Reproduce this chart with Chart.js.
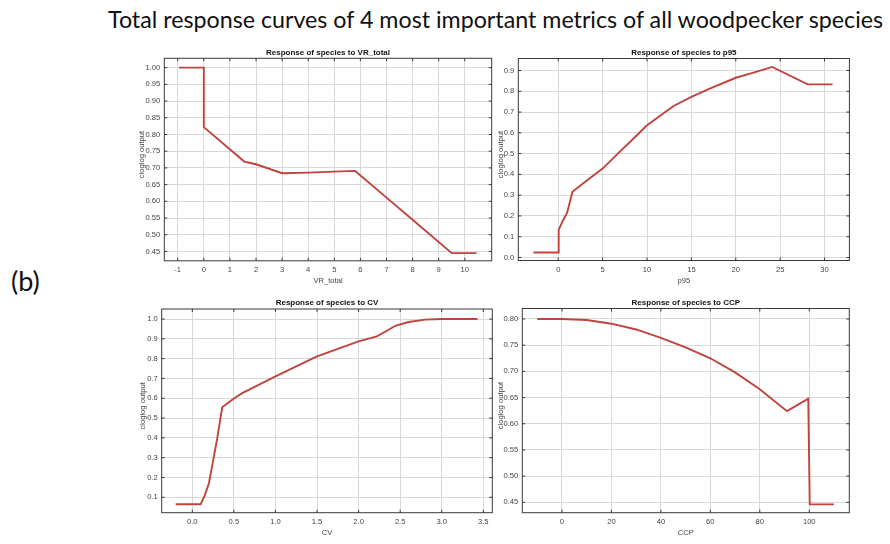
<!DOCTYPE html>
<html>
<head>
<meta charset="utf-8">
<script src="https://cdn.jsdelivr.net/npm/chart.js@4.4.1/dist/chart.umd.min.js"></script>
<style>
  html, body { margin: 0; padding: 0; background: #fff; }
  #page { position: relative; width: 890px; height: 544px; overflow: hidden; background: #fff; }
  #page canvas { position: absolute; left: 0; top: 0; pointer-events: none; }
  #mainTitle { position: absolute; left: 108px; top: 5px; white-space: nowrap; font-family: Lato, "Open Sans", sans-serif; color: #111; }
  #tag { position: absolute; left: 11px; top: 268px; line-height: 26px; font-family: Lato, "Open Sans", sans-serif; font-size: 27px; color: #111; }
</style>
</head>
<body>
<div id="page">
  <div id="mainTitle">Total response curves of 4 most important metrics of all woodpecker species</div>
  <div id="tag">(b)</div>
  <canvas id="cVR" width="890" height="544"></canvas>
  <canvas id="cP95" width="890" height="544"></canvas>
  <canvas id="cCV" width="890" height="544"></canvas>
  <canvas id="cCCP" width="890" height="544"></canvas>
</div>
<script>
// Response of species to VR_total
const vrX = [-0.95, 0, 0, 1.55, 2.0, 3.0, 4.0, 5.0, 5.8, 7.0, 8.0, 9.5, 10.45];
const vrY = [1.0, 1.0, 0.822, 0.719, 0.711, 0.684, 0.686, 0.689, 0.691, 0.611, 0.545, 0.445, 0.445];
const vrTicksX = [-1, 0, 1, 2, 3, 4, 5, 6, 7, 8, 9, 10];
const vrTicksY = [0.45, 0.50, 0.55, 0.60, 0.65, 0.70, 0.75, 0.80, 0.85, 0.90, 0.95, 1.00];

// Response of species to p95
const p95X = [-2.8, 0, 0.05, 0.5, 1.0, 1.6, 3, 5, 7, 8.4, 10, 13, 15, 17, 20, 22, 24.1, 28.1, 30.9];
const p95Y = [0.024, 0.024, 0.133, 0.176, 0.216, 0.316, 0.363, 0.428, 0.512, 0.569, 0.636, 0.729, 0.773, 0.812, 0.865, 0.890, 0.917, 0.833, 0.833];
const p95TicksX = [0, 5, 10, 15, 20, 25, 30];
const p95TicksY = [0.0, 0.1, 0.2, 0.3, 0.4, 0.5, 0.6, 0.7, 0.8, 0.9];

// Response of species to CV
const cvX = [-0.2, 0.1, 0.15, 0.2, 0.25, 0.3, 0.36, 0.5, 0.6, 1.0, 1.5, 2.0, 2.22, 2.45, 2.6, 2.8, 3.0, 3.43];
const cvY = [0.065, 0.065, 0.11, 0.171, 0.284, 0.398, 0.555, 0.599, 0.626, 0.71, 0.811, 0.887, 0.912, 0.967, 0.985, 0.997, 1.0, 1.0];
const cvTicksX = [0.0, 0.5, 1.0, 1.5, 2.0, 2.5, 3.0, 3.5];
const cvTicksY = [0.1, 0.2, 0.3, 0.4, 0.5, 0.6, 0.7, 0.8, 0.9, 1.0];

// Response of species to CCP
const ccpX = [-10, 0, 10, 20, 30, 40, 50, 60, 70, 80, 91, 99.6, 100.2, 110];
const ccpY = [0.800, 0.800, 0.798, 0.791, 0.780, 0.764, 0.746, 0.725, 0.698, 0.666, 0.624, 0.648, 0.446, 0.446];
const ccpTicksX = [0, 20, 40, 60, 80, 100];
const ccpTicksY = [0.45, 0.50, 0.55, 0.60, 0.65, 0.70, 0.75, 0.80];

const LINE_COLOR = '#c0443d';
const GRID_COLOR = '#d8d8d8';
const FRAME_COLOR = '#3a3a3a';
const TICK_COLOR = '#444';
const FONT = '"Liberation Sans", Arial, sans-serif';
const AXIS_FONT_SIZE = 7.6;

// fit the figure title to its line
(function () {
  const el = document.getElementById('mainTitle');
  const c = document.createElement('canvas').getContext('2d');
  c.font = '100px Lato';
  const w = c.measureText(el.textContent).width;
  el.style.fontSize = (100 * 777 / w).toFixed(2) + 'px';
})();

// frame, inward tick marks, panel heading and y-axis title
const framePlugin = {
  id: 'frame',
  afterDatasetsDraw(chart, args, opts) {
    const { ctx, chartArea: a, scales: { x, y } } = chart;
    ctx.save();
    ctx.strokeStyle = FRAME_COLOR;
    ctx.lineWidth = 1;
    ctx.beginPath();
    x.ticks.forEach(t => {
      const px = x.getPixelForValue(t.value);
      ctx.moveTo(px, a.bottom); ctx.lineTo(px, a.bottom - 3);
      ctx.moveTo(px, a.top); ctx.lineTo(px, a.top + 3);
    });
    y.ticks.forEach(t => {
      const py = y.getPixelForValue(t.value);
      ctx.moveTo(a.left, py); ctx.lineTo(a.left + 3, py);
      ctx.moveTo(a.right, py); ctx.lineTo(a.right - 3, py);
    });
    ctx.stroke();
    ctx.strokeRect(a.left, a.top, a.right - a.left, a.bottom - a.top);

    ctx.fillStyle = '#111';
    ctx.font = 'bold 8px ' + FONT;
    ctx.textAlign = 'center';
    ctx.textBaseline = 'middle';
    ctx.fillText(opts.text, (a.left + a.right) / 2, a.top - 6);

    ctx.fillStyle = TICK_COLOR;
    ctx.font = AXIS_FONT_SIZE + 'px ' + FONT;
    ctx.translate(a.left - opts.yTitleGap, (a.top + a.bottom) / 2 - 5);
    ctx.rotate(-Math.PI / 2);
    ctx.fillText('cloglog output', 0, 0);
    ctx.restore();
  }
};

function makePanel(id, p) {
  const xAxisH = 25;
  const ticksAt = vals => axis => { axis.ticks = vals.map(v => ({ value: v })); };
  const tickFont = { family: FONT, size: AXIS_FONT_SIZE };
  new Chart(document.getElementById(id), {
    type: 'line',
    data: {
      datasets: [{
        data: p.xs.map((v, i) => ({ x: v, y: p.ys[i] })),
        borderColor: LINE_COLOR,
        borderWidth: 1.9,
        pointRadius: 0,
        tension: 0,
        fill: false
      }]
    },
    options: {
      responsive: false,
      animation: false,
      events: [],
      layout: {
        padding: {
          left: p.area[0] - 30,
          top: p.area[1],
          right: 890 - p.area[2],
          bottom: 544 - p.area[3] - xAxisH
        }
      },
      plugins: {
        legend: { display: false },
        tooltip: { enabled: false },
        frame: { text: p.title, yTitleGap: p.yTitleGap }
      },
      scales: {
        x: {
          type: 'linear',
          min: p.xRange[0], max: p.xRange[1],
          afterBuildTicks: ticksAt(p.xTicks),
          afterFit: s => { s.height = xAxisH; },
          grid: { color: GRID_COLOR, drawTicks: false },
          border: { display: false },
          ticks: { font: tickFont, color: TICK_COLOR, padding: 5, maxRotation: 0,
                   callback: v => v.toFixed(p.xDec) },
          title: { display: true, text: p.xLabel, font: tickFont, color: TICK_COLOR, padding: 0 }
        },
        y: {
          type: 'linear',
          min: p.yRange[0], max: p.yRange[1],
          afterBuildTicks: ticksAt(p.yTicks),
          afterFit: s => { s.width = 30; },
          grid: { color: GRID_COLOR, drawTicks: false },
          border: { display: false },
          ticks: { font: tickFont, color: TICK_COLOR, padding: 4,
                   callback: v => v.toFixed(p.yDec) }
        }
      }
    },
    plugins: [framePlugin]
  });
}

makePanel('cVR', {
  title: 'Response of species to VR_total', xLabel: 'VR_total',
  xs: vrX, ys: vrY, xTicks: vrTicksX, yTicks: vrTicksY, xDec: 0, yDec: 2,
  area: [164.3, 58.3, 491.7, 260.8], yTitleGap: 22.6,
  xRange: [-1.514, 11.03], yRange: [0.422, 1.028]
});
makePanel('cP95', {
  title: 'Response of species to p95', xLabel: 'p95',
  xs: p95X, ys: p95Y, xTicks: p95TicksX, yTicks: p95TicksY, xDec: 0, yDec: 1,
  area: [518.3, 58.5, 849.4, 260.5], yTitleGap: 17.6,
  xRange: [-4.5, 32.8], yRange: [-0.0144, 0.9577]
});
makePanel('cCV', {
  title: 'Response of species to CV', xLabel: 'CV',
  xs: cvX, ys: cvY, xTicks: cvTicksX, yTicks: cvTicksY, xDec: 1, yDec: 1,
  area: [161.7, 309, 492.3, 512.7], yTitleGap: 19,
  xRange: [-0.368, 3.608], yRange: [0.0222, 1.0505]
});
makePanel('cCCP', {
  title: 'Response of species to CCP', xLabel: 'CCP',
  xs: ccpX, ys: ccpY, xTicks: ccpTicksX, yTicks: ccpTicksY, xDec: 0, yDec: 2,
  area: [522.3, 308.5, 849.3, 512.7], yTitleGap: 21.6,
  xRange: [-16.05, 116.2], yRange: [0.4302, 0.82]
});
</script>
</body>
</html>
